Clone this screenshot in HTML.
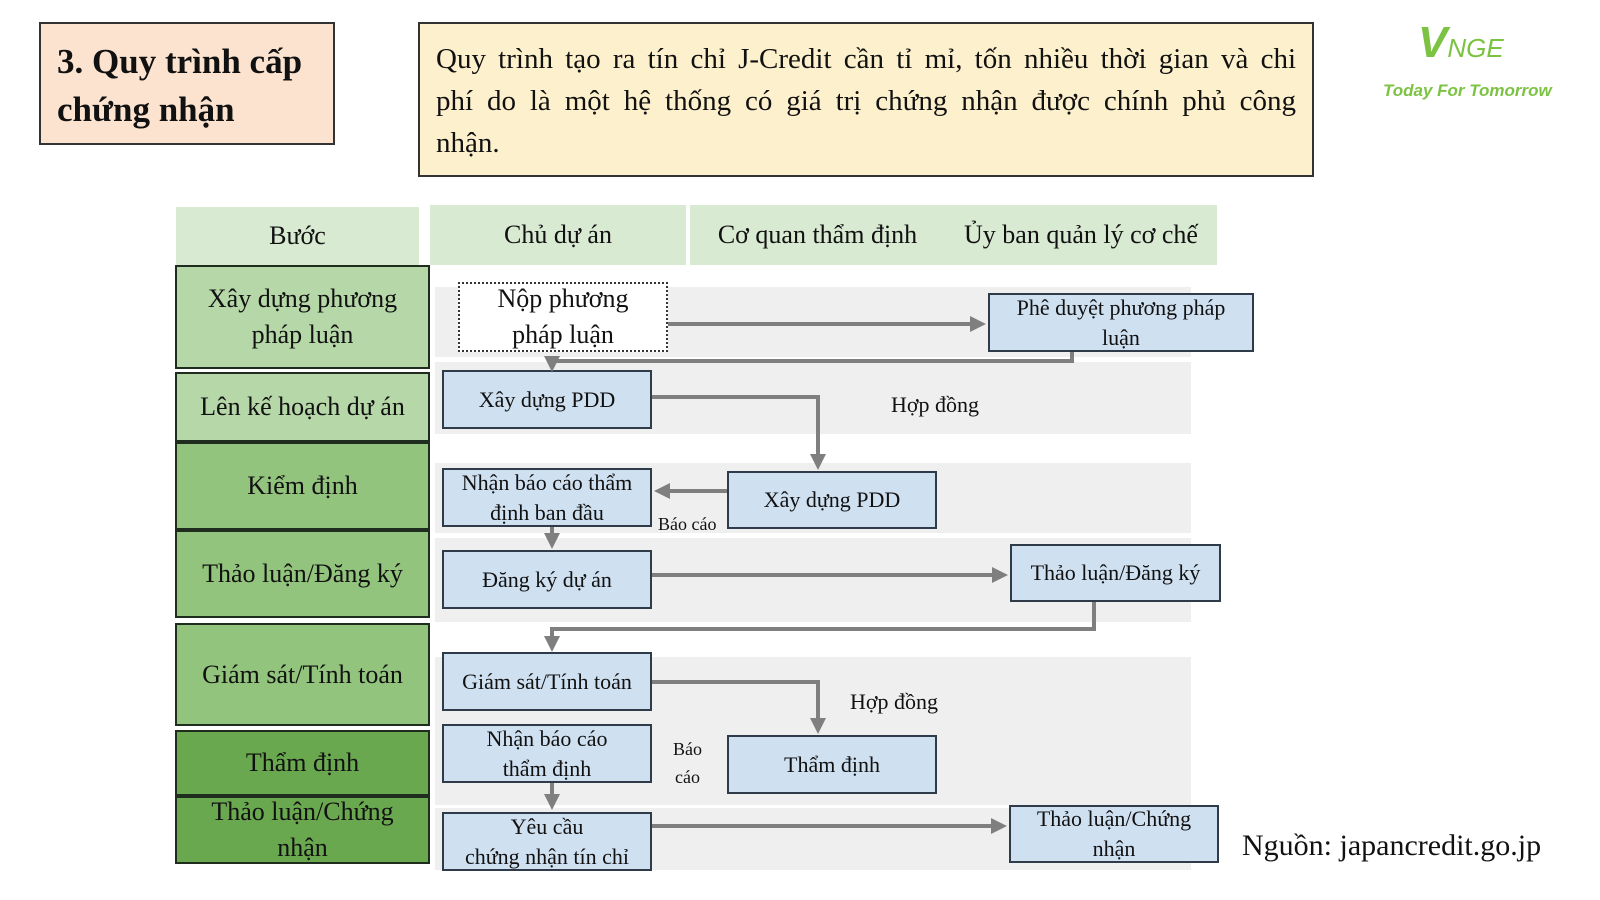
<!DOCTYPE html>
<html><head><meta charset="utf-8"><style>
body{margin:0;width:1600px;height:900px;background:#fff;position:relative;overflow:hidden;font-family:"Liberation Serif",serif;color:#111}
.a{position:absolute;box-sizing:border-box}
.c{display:flex;align-items:center;justify-content:center;text-align:center}
.hd{background:#d9ead3;font-size:26px}
.st{border:2px solid #1f2d1f;font-size:26px;line-height:36px}
.bx{background:#cfe0f1;border:2px solid #2f3b48;font-size:22px;line-height:30px}
.band{background:#efefef}
.lb{font-size:22px}
.jl{text-align:justify;text-align-last:justify;white-space:nowrap}
</style></head><body>
<div class="a" style="left:39px;top:22px;width:296px;height:123px;background:#fbe3cf;border:2px solid #333;padding:14px 16px;font-weight:bold;font-size:35px;line-height:48px">3. Quy trình cấp chứng nhận</div>
<div class="a" style="left:418px;top:22px;width:896px;height:155px;background:#fdf0cc;border:2px solid #333;padding:14px 16px;font-size:29px;line-height:42px">
<div class="jl">Quy trình tạo ra tín chỉ J-Credit cần tỉ mỉ, tốn nhiều thời gian và chi</div>
<div class="jl">phí do là một hệ thống có giá trị chứng nhận được chính phủ công</div>
<div>nhận.</div>
</div>
<div class="a" style="left:1418px;top:18px;font-family:'Liberation Sans',sans-serif;color:#7cc243;font-size:44px;font-style:italic;font-weight:bold">V<span style="font-size:26px;font-weight:normal">NGE</span></div>
<div class="a" style="left:1383px;top:81px;font-family:'Liberation Sans',sans-serif;color:#7cc243;font-size:17px;font-style:italic;font-weight:bold">Today For Tomorrow</div>

<div class="a hd c" style="left:176px;top:207px;width:243px;height:58px">Bước</div>
<div class="a hd c" style="left:430px;top:205px;width:256px;height:60px">Chủ dự án</div>
<div class="a hd c" style="left:690px;top:205px;width:255px;height:60px">Cơ quan thẩm định</div>
<div class="a hd c" style="left:945px;top:205px;width:272px;height:60px">Ủy ban quản lý cơ chế</div>

<div class="a band" style="left:435px;top:287px;width:756px;height:70px"></div>
<div class="a band" style="left:435px;top:362px;width:756px;height:72px"></div>
<div class="a band" style="left:435px;top:463px;width:756px;height:70px"></div>
<div class="a band" style="left:435px;top:538px;width:756px;height:84px"></div>
<div class="a band" style="left:435px;top:657px;width:756px;height:148px"></div>
<div class="a band" style="left:435px;top:808px;width:756px;height:62px"></div>

<div class="a st c" style="left:175px;top:265px;width:255px;height:104px;background:#b6d7a8">Xây dựng phương<br>pháp luận</div>
<div class="a st c" style="left:175px;top:372px;width:255px;height:70px;background:#b6d7a8">Lên kế hoạch dự án</div>
<div class="a st c" style="left:175px;top:442px;width:255px;height:88px;background:#93c47d">Kiểm định</div>
<div class="a st c" style="left:175px;top:530px;width:255px;height:88px;background:#93c47d">Thảo luận/Đăng ký</div>
<div class="a st c" style="left:175px;top:623px;width:255px;height:103px;background:#93c47d">Giám sát/Tính toán</div>
<div class="a st c" style="left:175px;top:730px;width:255px;height:66px;background:#6aa84f">Thẩm định</div>
<div class="a st c" style="left:175px;top:796px;width:255px;height:68px;background:#6aa84f">Thảo luận/Chứng<br>nhận</div>

<div class="a c" style="left:458px;top:282px;width:210px;height:70px;background:#fff;border:2px dotted #333;font-size:26px;line-height:36px">Nộp phương<br>pháp luận</div>
<div class="a bx c" style="left:988px;top:293px;width:266px;height:59px">Phê duyệt phương pháp<br>luận</div>
<div class="a bx c" style="left:442px;top:370px;width:210px;height:59px">Xây dựng PDD</div>
<div class="a bx c" style="left:442px;top:468px;width:210px;height:59px">Nhận báo cáo thẩm<br>định ban đầu</div>
<div class="a bx c" style="left:727px;top:471px;width:210px;height:58px">Xây dựng PDD</div>
<div class="a bx c" style="left:442px;top:550px;width:210px;height:59px">Đăng ký dự án</div>
<div class="a bx c" style="left:1010px;top:544px;width:211px;height:58px">Thảo luận/Đăng ký</div>
<div class="a bx c" style="left:442px;top:652px;width:210px;height:59px">Giám sát/Tính toán</div>
<div class="a bx c" style="left:442px;top:724px;width:210px;height:59px">Nhận báo cáo<br>thẩm định</div>
<div class="a bx c" style="left:727px;top:735px;width:210px;height:59px">Thẩm định</div>
<div class="a bx c" style="left:442px;top:812px;width:210px;height:59px">Yêu cầu<br>chứng nhận tín chỉ</div>
<div class="a bx c" style="left:1009px;top:805px;width:210px;height:58px">Thảo luận/Chứng<br>nhận</div>

<div class="a lb" style="left:891px;top:392px">Hợp đồng</div>
<div class="a" style="left:658px;top:514px;font-size:18px">Báo cáo</div>
<div class="a lb" style="left:850px;top:689px">Hợp đồng</div>
<div class="a" style="left:673px;top:735px;font-size:18px;line-height:28px;text-align:center">Báo<br>cáo</div>
<div class="a" style="left:1242px;top:829px;font-size:30px">Nguồn: japancredit.go.jp</div>

<svg class="a" style="left:0;top:0" width="1600" height="900">
<defs><marker id="m" markerWidth="4" markerHeight="4" refX="3" refY="2" orient="auto" markerUnits="strokeWidth"><path d="M0,0 L4,2 L0,4z" fill="#7f7f7f"/></marker></defs>
<g stroke="#7f7f7f" stroke-width="4" fill="none">
<path d="M668 324 H982" marker-end="url(#m)"/>
<path d="M1072 352 V361 H552 V368" marker-end="url(#m)"/>
<path d="M652 397 H818 V466" marker-end="url(#m)"/>
<path d="M727 491 H658" marker-end="url(#m)"/>
<path d="M552 527 V545" marker-end="url(#m)"/>
<path d="M652 575 H1004" marker-end="url(#m)"/>
<path d="M1094 602 V629 H552 V648" marker-end="url(#m)"/>
<path d="M652 682 H818 V730" marker-end="url(#m)"/>
<path d="M552 783 V806" marker-end="url(#m)"/>
<path d="M652 826 H1003" marker-end="url(#m)"/>
</g>
</svg>
</body></html>
